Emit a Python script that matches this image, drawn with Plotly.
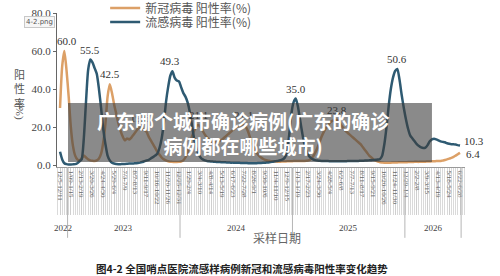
import plotly.graph_objects as go

# ---------------- data ----------------
weeks = list(range(186))

flu = [7, 3, 1, 0.5, 0.3, 0.3, 0.4, 0.5, 1, 2,
       3, 14, 33, 50, 55.5, 54, 51, 48, 40, 30,
       19, 11, 5, 2.5, 1.2, 0.8, 0.6, 0.5, 0.5, 0.6,
       0.6, 0.7, 0.8, 0.8, 0.9, 1.0, 1.1, 1.3, 1.6, 2.0,
       2.4, 2.8, 3.5, 4.2, 5, 6, 9, 14, 22, 33,
       41, 47, 49.3, 46, 44.5, 44, 41, 38, 36, 33,
       28, 21, 14, 9, 6, 4, 3, 2.5, 2.2, 2.0,
       1.9, 1.8, 1.7, 1.6, 1.6, 1.5, 1.5, 1.4, 1.4, 1.3,
       1.3, 1.2, 1.2, 1.2, 1.1, 1.1, 1.1, 1.0, 1.0, 1.0,
       1.0, 1.0, 1.1, 1.1, 1.2, 1.3, 1.4, 1.5, 1.7, 1.9,
       2.1, 2.3, 2.6, 3.0, 4.0, 7, 16, 27, 33, 35,
       31, 24, 17, 11, 7.5, 5, 3.8, 3, 2.6, 2.4,
       2.3, 2.2, 2.2, 2.1, 2.1, 2.0, 2.0, 2.0, 2.0, 2.0,
       2.0, 2.0, 2.0, 2.1, 2.1, 2.1, 2.2, 2.2, 2.2, 2.3,
       2.3, 2.4, 2.4, 2.5, 2.6, 2.7, 2.8, 2.9, 3.2, 5,
       11, 20, 31, 40, 46, 49.5, 50.6, 45, 37, 30,
       24, 19, 15.5, 14, 12.5, 11, 10, 9.3, 9, 9.2,
       10.5, 12.5, 13.5, 13.8, 13.5, 13, 12.5, 12.2, 12, 11.5,
       11.2, 11, 11, 10.8, 10.5, 10.3]

covid = [30, 52, 60, 50, 36, 20, 10, 5, 3, 2.5,
         3.5, 5, 4, 3, 2.5, 2.3, 2.2, 2.5, 3.5, 6,
         12, 22, 36, 42.5, 38, 32, 27, 22, 18, 15,
         13, 14, 13.5, 14.5, 16, 17.5, 19, 19.6, 19, 18.5,
         17.5, 15, 13, 11, 9, 7, 5.5, 4, 3, 2.5,
         2, 1.8, 1.7, 1.6, 1.6, 1.7, 1.9, 2.5, 4, 7,
         11, 15, 18, 20.5, 21.1, 20, 18, 16, 14.5, 13.5,
         12.5, 12, 12, 12.3, 12.8, 13.5, 14.5, 15.5, 16.5, 17.5,
         18.5, 19.5, 20.3, 20.8, 21.1, 21, 20, 17.5, 14, 11,
         8.5, 6.5, 5, 4, 3.2, 2.7, 2.4, 2.2, 2.0, 1.9,
         1.8, 1.8, 1.8, 1.9, 1.9, 2.0, 2.0, 2.0, 2.1, 2.1,
         2.1, 2.1, 2.2, 2.2, 2.3, 2.5, 3.2, 4.5, 6.5, 9,
         12, 15, 17.5, 19.5, 21, 22.5, 23.3, 23.3, 23.8, 23.2,
         21, 19.5, 18, 17, 16, 15, 14, 13, 12, 11,
         9.5, 8, 6.5, 5, 4, 3, 2.3, 1.8, 1.5, 1.4,
         1.3, 1.3, 1.3, 1.3, 1.4, 1.4, 1.4, 1.5, 1.5, 1.5,
         1.5, 1.6, 1.6, 1.6, 1.7, 1.7, 1.7, 1.8, 1.8, 1.8,
         1.9, 1.9, 2.0, 2.0, 2.1, 2.1, 2.2, 2.4, 2.7, 3.0,
         3.4, 3.8, 4.3, 5.0, 5.7, 6.4]

tick_text = ["12/5-12/11", "1/09-1/15", "2/13-2/19", "3/20-3/26", "4/24-4/30",
             "5/29-6/4", "7/3-7/9", "8/7-8/13", "9/11-9/17", "10/16-10/22",
             "11/20-11/26", "12/25-12/31", "1/29-2/4", "3/4-3/10", "4/8-4/14",
             "5/13-5/19", "6/17-6/23", "7/22-7/28", "8/26-9/1", "9/30-10/6",
             "11/4-11/10", "12/9-12/15", "1/13-1/19", "2/17-2/23", "3/24-3/30",
             "4/28-5/4", "6/2-6/8", "7/7-7/13", "8/11-8/17", "9/15-9/21",
             "10/20-10/26", "11/24-11/30", "12/29-1/4", "2/2-2/8", "3/9-3/15",
             "4/13-4/19", "5/18-5/24", "6/22-6/28"]
tick_weeks = [i * 5 for i in range(len(tick_text))]

year_labels = ["2022", "2023", "2024", "2025", "2026"]
year_start_weeks = [0, 4, 56, 108, 160, 186]

peak_text = ["60.0", "55.5", "42.5", "19.6", "49.3", "21.1", "21.1", "35.0", "23.8", "50.6"]
peak_week = [3, 14, 23, 37, 51, 64, 85, 109, 128, 156]
peak_value = [60.0, 55.5, 42.5, 19.6, 49.3, 21.1, 21.1, 35.0, 23.8, 50.6]

end_text = ["10.3", "6.4"]
end_value = [10.3, 6.4]

series_names = ["新冠病毒 阳性率(%)", "流感病毒 阳性率(%)"]
COVID_C = "#dca067"
FLU_C = "#2e5a72"

serif = "Liberation Serif, DejaVu Serif, serif"
cjk = "Noto Sans CJK SC, sans-serif"

fig = go.Figure()
fig.add_trace(go.Scatter(x=weeks, y=covid, mode="lines", name=series_names[0],
                         line=dict(color=COVID_C, width=2.5, shape="spline", smoothing=0.6),
                         legend="legend", showlegend=True))
fig.add_trace(go.Scatter(x=weeks, y=flu, mode="lines", name=series_names[1],
                         line=dict(color=FLU_C, width=2.5, shape="spline", smoothing=0.6),
                         legend="legend2", showlegend=True))

ann = []
for t, w, v in zip(peak_text, peak_week, peak_value):
    ann.append(dict(x=w, y=v, text=t, showarrow=False, xanchor="center", yanchor="bottom", yshift=2,
                    font=dict(family=serif, size=11, color="#333")))
ann.append(dict(x=weeks[-1], y=end_value[0], text=end_text[0], showarrow=False,
                xanchor="left", yanchor="middle", xshift=2, yshift=5,
                font=dict(family=serif, size=11, color="#333")))
ann.append(dict(x=weeks[-1], y=end_value[1], text=end_text[1], showarrow=False,
                xanchor="left", yanchor="middle", xshift=4, yshift=-1,
                font=dict(family=serif, size=11, color="#333")))

# year labels centered in year spans
for i, yl in enumerate(year_labels):
    c = (year_start_weeks[i] - 0.5 + year_start_weeks[i + 1] - 0.5) / 2
    ann.append(dict(x=c, y=-0.396, xref="x", yref="paper", text=yl, showarrow=False,
                    xanchor="center", yanchor="middle",
                    font=dict(family=serif, size=9, color="#444")))

shapes = []
for b in year_start_weeks[1:]:
    shapes.append(dict(type="line", xref="x", yref="paper", x0=b - 0.5, x1=b - 0.5,
                       y0=-0.46, y1=0, line=dict(color="#b5b5b5", width=1)))

# banner overlay
shapes.append(dict(type="rect", xref="paper", yref="paper", x0=0.027, x1=0.919,
                   y0=0.032, y1=0.416, fillcolor="rgba(60,60,60,0.6)", line=dict(width=0),
                   layer="above"))
ann.append(dict(x=0.458, y=0.22, xref="paper", yref="paper",
                text="广东哪个城市确诊病例(广东的确诊<br>病例都在哪些城市)",
                showarrow=False, align="center", xanchor="center", yanchor="middle",
                font=dict(family=cjk, size=19, color="white", weight="bold")))

# axis titles and captions
ann.append(dict(x=-0.092, y=0.51, xref="paper", yref="paper", text="阳<br>性<br>率",
                showarrow=False, xanchor="center", yanchor="middle",
                font=dict(family=cjk, size=11, color="#555")))
ann.append(dict(x=-0.092, y=0.36, xref="paper", yref="paper", text="(%)", textangle=90,
                showarrow=False, xanchor="center", yanchor="middle",
                font=dict(family=serif, size=11, color="#555")))
ann.append(dict(x=0.539, y=-0.455, xref="paper", yref="paper", text="采样日期",
                showarrow=False, xanchor="center", yanchor="middle",
                font=dict(family=cjk, size=12, color="#666")))
ann.append(dict(x=0.453, y=-0.656, xref="paper", yref="paper",
                text="图4-2 全国哨点医院流感样病例新冠和流感病毒阳性率变化趋势",
                showarrow=False, xanchor="center", yanchor="middle",
                font=dict(family=cjk, size=10.5, color="#222", weight="bold")))
ann.append(dict(x=-0.044, y=0.94, xref="paper", yref="paper", text="4-2.png",
                showarrow=False, xanchor="center", yanchor="middle",
                bgcolor="#f6f6f6", bordercolor="#c8c8c8", borderwidth=1,
                borderpad=1, font=dict(family="DejaVu Sans, sans-serif", size=7, color="#555")))

fig.update_layout(
    width=500, height=276,
    margin=dict(l=57, r=35, t=13, b=109, autoexpand=False),
    paper_bgcolor="white", plot_bgcolor="white",
    showlegend=True,
    annotations=ann, shapes=shapes,
    legend=dict(x=0.118, y=1.032, xanchor="left", yanchor="middle", bgcolor="rgba(0,0,0,0)",
                font=dict(family=cjk, size=12, color="#555"), itemwidth=30, visible=True),
    legend2=dict(x=0.118, y=0.942, xanchor="left", yanchor="middle", bgcolor="rgba(0,0,0,0)",
                 font=dict(family=cjk, size=12, color="#555"), itemwidth=30, visible=True),
    xaxis=dict(range=[-1.4, 187.3], tickmode="array", tickvals=tick_weeks, ticktext=tick_text,
               tickangle=90, ticks="outside", ticklen=47, tickcolor="#cfcfcf",
               ticklabelstandoff=-46, automargin=False,
               minor=dict(dtick=1, tick0=0, ticks="outside", ticklen=47, tickcolor="#dadada"),
               tickfont=dict(family=serif, size=7, color="#666"),
               showline=True, linecolor="#999", showgrid=False, zeroline=False),
    yaxis=dict(range=[-1, 80], tickvals=[0, 20, 40, 60, 80], tickformat=".1f",
               ticks="outside", ticklen=3, tickcolor="#666", automargin=False,
               tickfont=dict(family=serif, size=11, color="#444"),
               showline=True, linecolor="#666", showgrid=False, zeroline=False),
)

fig.write_html("out.html")
